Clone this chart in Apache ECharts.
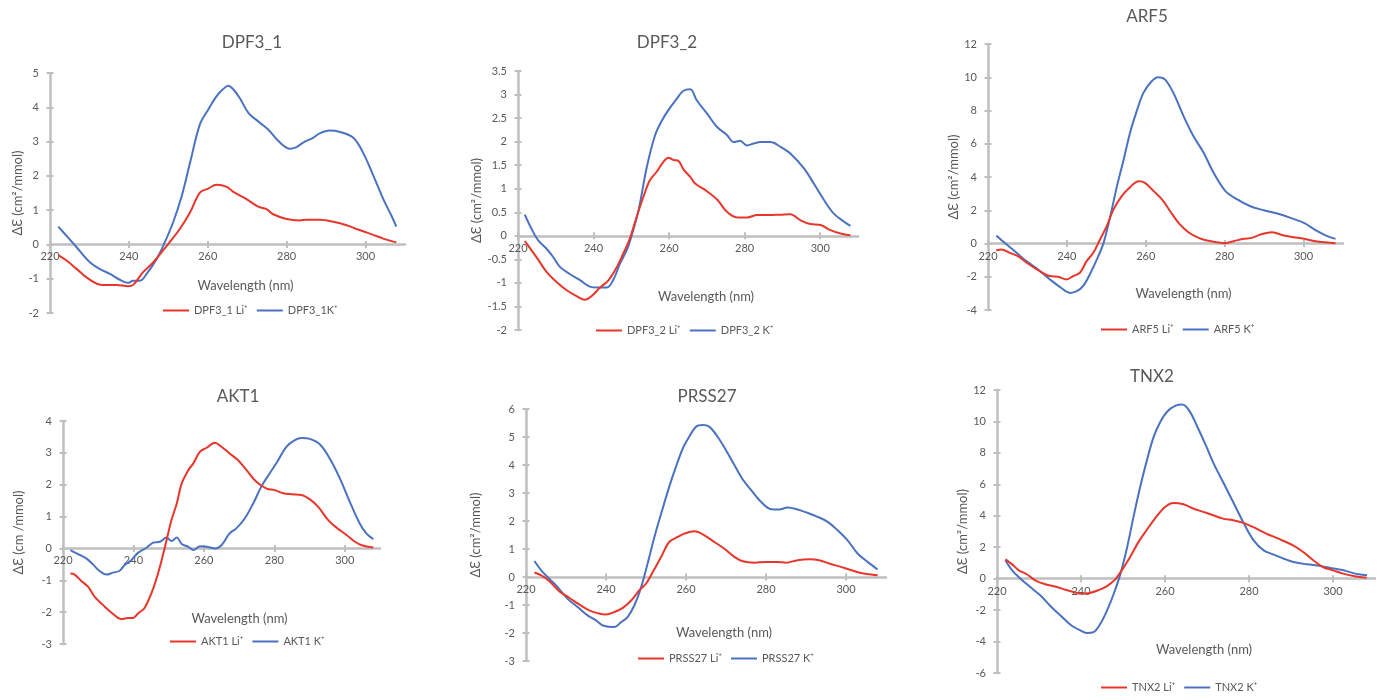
<!DOCTYPE html>
<html><head><meta charset="utf-8">
<script src="https://cdn.jsdelivr.net/npm/echarts@6/dist/echarts.min.js"></script>
<style>html,body{margin:0;padding:0;background:#fff}#c{width:1387px;height:700px}</style>
</head><body><div id="c"></div><script>
// ---------- DATA ----------
const xTicks = [220, 240, 260, 280, 300];
const titles = ['DPF3_1', 'DPF3_2', 'ARF5', 'AKT1', 'PRSS27', 'TNX2'];
const liNames = ['DPF3_1 Li⁺', 'DPF3_2 Li⁺', 'ARF5 Li⁺', 'AKT1 Li⁺', 'PRSS27 Li⁺', 'TNX2 Li⁺'];
const kNames = ['DPF3_1K⁺', 'DPF3_2 K⁺', 'ARF5 K⁺', 'AKT1 K⁺', 'PRSS27 K⁺', 'TNX2 K⁺'];
const yNames = ['ΔƐ (cm²/mmol)', 'ΔƐ (cm²/mmol)', 'ΔƐ (cm²/mmol)', 'ΔƐ (cm /mmol)', 'ΔƐ (cm²/mmol)', 'ΔƐ (cm²/mmol)'];
const yRanges = [[-2, 5, 1], [-2, 3.5, 0.5], [-4, 12, 2], [-3, 4, 1], [-3, 6, 1], [-6, 12, 2]];

const dpf31Li = [[222.1,-0.31],[224.2,-0.47],[226.8,-0.72],[229.7,-1.0],[233.1,-1.18],[236.9,-1.18],[239.8,-1.22],[241.1,-1.18],[243.6,-0.81],[246.2,-0.52],[249.6,-0.04],[252.9,0.45],[255.5,0.93],[258.0,1.51],[260.1,1.63],[262.2,1.74],[264.8,1.68],[266.5,1.53],[269.8,1.32],[272.8,1.10],[274.9,1.03],[276.6,0.88],[280.0,0.74],[283.3,0.70],[285.0,0.72],[288.4,0.72],[291.8,0.66],[295.2,0.56],[297.7,0.45],[300.2,0.35],[303.6,0.21],[305.3,0.14],[307.8,0.06]];
const dpf31K = [[222.1,0.52],[224.2,0.25],[226.8,-0.09],[230.1,-0.52],[232.7,-0.72],[235.2,-0.86],[237.7,-1.03],[239.8,-1.12],[241.1,-1.06],[242.8,-1.06],[244.5,-0.86],[247.0,-0.43],[248.7,-0.04],[251.2,0.64],[253.4,1.41],[255.5,2.38],[258.0,3.50],[260.1,3.93],[262.2,4.32],[263.9,4.53],[265.2,4.63],[266.5,4.52],[268.1,4.27],[270.3,3.84],[273.2,3.55],[275.3,3.35],[278.3,2.97],[280.8,2.79],[282.5,2.84],[284.2,2.97],[286.7,3.11],[288.4,3.24],[290.9,3.32],[293.5,3.28],[296.9,3.11],[299.4,2.67],[302.0,2.0],[304.5,1.32],[306.6,0.83],[307.8,0.52]];

const dpf32Li = [[221.8,-0.11],[223.5,-0.30],[225.3,-0.50],[227.5,-0.76],[230.2,-0.98],[232.8,-1.15],[235.5,-1.28],[237.7,-1.36],[239.5,-1.28],[241.7,-1.10],[244.0,-0.94],[246.2,-0.66],[247.9,-0.37],[249.6,-0.06],[251.4,0.40],[253.2,0.83],[254.9,1.18],[256.7,1.36],[258.5,1.57],[259.8,1.66],[261.2,1.61],[262.5,1.59],[263.8,1.41],[265.6,1.25],[266.9,1.11],[269.6,0.97],[272.7,0.77],[275.3,0.51],[278.0,0.39],[280.7,0.39],[283.3,0.44],[286.0,0.44],[289.5,0.45],[292.1,0.46],[294.8,0.33],[297.4,0.25],[300.1,0.23],[302.7,0.12],[305.4,0.05],[308.0,0.01]];
const dpf32K = [[221.8,0.45],[223.5,0.16],[225.3,-0.09],[227.5,-0.27],[229.3,-0.45],[231.1,-0.66],[233.7,-0.81],[236.4,-0.94],[239.0,-1.08],[241.2,-1.10],[243.5,-1.10],[245.2,-0.94],[247.0,-0.59],[248.8,-0.30],[250.1,0.01],[251.9,0.54],[254.1,1.46],[256.3,2.14],[258.1,2.45],[259.8,2.67],[262.0,2.91],[263.8,3.08],[265.6,3.11],[267.3,2.88],[270.0,2.60],[272.7,2.31],[275.3,2.14],[277.1,1.99],[278.8,2.02],[280.6,1.92],[282.4,1.96],[284.2,1.99],[286.8,1.99],[289.5,1.89],[292.1,1.75],[295.7,1.43],[298.3,1.11],[301.0,0.76],[303.6,0.47],[306.3,0.30],[308.0,0.21]];

const arf5Li = [[222.1,-0.40],[223.4,-0.36],[225.5,-0.56],[227.6,-0.76],[230.2,-1.22],[233.1,-1.66],[235.7,-1.96],[237.8,-2.0],[239.9,-2.16],[241.6,-1.96],[243.3,-1.76],[245.0,-1.06],[246.7,-0.56],[248.4,0.24],[250.1,1.04],[251.8,2.04],[253.9,2.85],[256.0,3.39],[258.2,3.75],[259.8,3.65],[262.0,3.15],[264.1,2.65],[266.2,1.94],[268.3,1.24],[270.8,0.68],[273.4,0.34],[275.5,0.18],[278.0,0.08],[279.7,0.02],[282.3,0.14],[284.8,0.28],[286.9,0.34],[289.1,0.54],[292.0,0.68],[295.0,0.48],[297.5,0.38],[300.1,0.28],[303.5,0.12],[308.1,0.02]];
const arf5K = [[222.1,0.48],[224.2,0.04],[226.8,-0.46],[229.7,-1.06],[232.7,-1.56],[235.7,-2.16],[238.2,-2.61],[240.8,-2.97],[242.5,-2.87],[244.2,-2.53],[245.9,-1.82],[247.6,-0.96],[249.3,0.04],[251.0,1.64],[252.7,3.45],[254.4,5.05],[256.0,6.65],[257.7,7.96],[259.4,9.06],[261.5,9.76],[263.2,10.0],[264.9,9.86],[267.0,9.06],[269.6,7.65],[272.1,6.45],[274.7,5.45],[277.2,4.25],[280.2,3.15],[283.2,2.65],[286.5,2.24],[289.9,2.0],[293.3,1.80],[296.7,1.54],[300.1,1.24],[303.5,0.74],[306.0,0.44],[308.1,0.28]];

const akt1Li = [[222.1,-0.79],[223.3,-0.82],[225.2,-1.02],[227.1,-1.20],[229.0,-1.52],[231.4,-1.78],[233.7,-2.01],[236.6,-2.22],[238.5,-2.18],[239.9,-2.18],[241.3,-2.04],[243.2,-1.86],[245.6,-1.26],[247.5,-0.58],[249.4,0.26],[250.8,0.89],[252.3,1.41],[253.7,2.04],[255.6,2.46],[257.0,2.67],[258.9,3.04],[260.8,3.16],[263.1,3.32],[265.0,3.19],[267.3,2.98],[269.7,2.77],[272.1,2.46],[274.9,2.09],[277.8,1.88],[280.1,1.83],[282.5,1.73],[284.9,1.70],[287.7,1.68],[290.1,1.54],[292.4,1.31],[295.3,0.89],[297.7,0.65],[300.5,0.42],[302.9,0.21],[304.8,0.10],[308.1,0.03]];
const akt1K = [[222.1,-0.05],[224.3,-0.18],[226.6,-0.31],[228.5,-0.50],[230.4,-0.71],[232.3,-0.82],[234.2,-0.76],[236.1,-0.70],[237.5,-0.52],[239.4,-0.37],[241.3,-0.14],[243.7,0.02],[245.6,0.18],[247.5,0.21],[249.4,0.34],[250.8,0.23],[252.3,0.34],[253.7,0.14],[255.6,0.05],[257.0,-0.05],[258.9,0.07],[260.8,0.05],[263.1,0.0],[265.0,0.10],[267.3,0.47],[269.2,0.63],[271.6,0.94],[274.0,1.41],[276.3,1.94],[278.7,2.36],[281.1,2.77],[283.4,3.19],[285.8,3.40],[287.7,3.47],[290.1,3.44],[292.9,3.27],[295.7,2.83],[298.6,2.20],[301.4,1.47],[304.2,0.79],[306.1,0.47],[308.1,0.29]];

const prss27Li = [[222.1,0.16],[223.8,0.06],[225.8,-0.14],[228.3,-0.51],[230.8,-0.74],[233.3,-0.98],[235.8,-1.19],[237.9,-1.29],[240.0,-1.34],[242.1,-1.25],[244.2,-1.10],[246.3,-0.84],[248.3,-0.48],[250.0,-0.24],[251.7,0.18],[253.8,0.72],[255.8,1.25],[257.9,1.43],[259.6,1.55],[262.1,1.63],[264.6,1.49],[267.1,1.25],[269.6,1.01],[272.1,0.72],[274.2,0.56],[277.1,0.51],[280.0,0.54],[282.9,0.54],[285.0,0.51],[287.9,0.60],[290.8,0.63],[293.3,0.60],[295.8,0.48],[298.3,0.38],[300.8,0.27],[303.8,0.14],[305.8,0.10],[307.9,0.06]];
const prss27K = [[222.1,0.57],[223.8,0.24],[225.8,-0.06],[227.9,-0.36],[230.4,-0.78],[232.9,-1.07],[235.4,-1.37],[237.5,-1.55],[239.2,-1.73],[242.1,-1.79],[243.8,-1.61],[245.4,-1.43],[247.1,-1.01],[248.8,-0.36],[250.4,0.48],[252.1,1.43],[253.8,2.27],[255.8,3.22],[257.5,3.94],[259.2,4.59],[260.8,5.01],[262.5,5.37],[264.2,5.43],[265.8,5.37],[267.9,5.01],[270.0,4.53],[272.1,4.0],[274.2,3.48],[276.3,3.10],[278.8,2.68],[281.3,2.42],[283.3,2.41],[285.4,2.48],[287.9,2.41],[290.4,2.29],[292.9,2.15],[295.4,1.97],[297.9,1.67],[300.4,1.31],[302.9,0.84],[305.4,0.54],[307.9,0.27]];

const tnx2Li = [[222.0,1.23],[223.6,0.91],[225.2,0.53],[227.1,0.28],[229.1,-0.11],[231.5,-0.36],[234.3,-0.53],[236.3,-0.70],[238.2,-0.85],[240.2,-0.96],[242.1,-0.91],[244.1,-0.74],[246.1,-0.49],[248.1,-0.06],[249.7,0.53],[251.7,1.38],[253.7,2.34],[255.6,3.08],[257.6,3.82],[260.0,4.56],[262.0,4.82],[264.4,4.73],[266.7,4.46],[269.1,4.25],[271.5,4.03],[273.8,3.82],[276.2,3.72],[278.6,3.55],[280.9,3.29],[284.1,2.87],[287.3,2.51],[290.5,2.12],[292.9,1.70],[295.3,1.17],[297.6,0.74],[300.0,0.53],[302.4,0.32],[305.2,0.15],[308.0,0.06]];
const tnx2K = [[222.0,1.17],[223.6,0.53],[225.6,0.0],[227.9,-0.53],[230.3,-1.06],[232.7,-1.74],[235.1,-2.34],[237.5,-2.93],[239.8,-3.29],[241.4,-3.46],[243.0,-3.40],[244.6,-2.87],[246.2,-2.02],[247.8,-0.96],[249.4,0.32],[251.0,2.02],[252.5,3.93],[254.1,5.84],[255.7,7.54],[257.3,9.02],[258.9,9.98],[260.5,10.62],[262.5,11.0],[264.1,11.08],[265.7,10.72],[267.7,9.66],[269.7,8.49],[271.6,7.32],[274.0,6.05],[276.4,4.78],[278.8,3.50],[281.1,2.44],[283.5,1.80],[285.9,1.53],[288.3,1.27],[290.6,1.06],[293.8,0.91],[297.0,0.81],[300.2,0.64],[302.5,0.53],[305.3,0.32],[308.1,0.21]];

const liData = [dpf31Li, dpf32Li, arf5Li, akt1Li, prss27Li, tnx2Li];
const kData = [dpf31K, dpf32K, arf5K, akt1K, prss27K, tnx2K];

// ---------- LAYOUT ----------
const layout = [
  {grid:[50,73,355,240],   title:[252,43],  legend:[163,305], yGap:23, xGap:35},
  {grid:[518,71,340,259],  title:[667,43],  legend:[596,325], yGap:31, xGap:54},
  {grid:[988,44,355,266],  title:[1147,17], legend:[1101,324], yGap:28, xGap:44},
  {grid:[63,421,317,223],  title:[238,397], legend:[170,636], yGap:38, xGap:64},
  {grid:[526,409,360,252], title:[707,397], legend:[638,653], yGap:44, xGap:49},
  {grid:[997,390,378,283], title:[1152,377],legend:[1101,682], yGap:28, xGap:65}
];

const FONT = 'Lato, "DejaVu Sans", sans-serif';
const TXT = '#595959';
const AX = '#BFBFBF';
const RED = '#E8362B';
const BLUE = '#4A72C0';

const grid = [], xAxis = [], yAxis = [], series = [], legend = [], graphic = [];
layout.forEach((L, i) => {
  const [yMin, yMax, yInt] = yRanges[i];
  const h = L.grid[3];
  // pixel distance of the zero line from the bottom / top of the plot box
  const fromBottom = h * (0 - yMin) / (yMax - yMin);
  const fromTop = h * yMax / (yMax - yMin);
  grid.push({left:L.grid[0], top:L.grid[1], width:L.grid[2], height:h});
  const tickStyle = {color:AX, width:2};
  xAxis.push({
    gridIndex:i, type:'value', min:220, max:310, interval:20, position:'bottom', offset:-fromBottom,
    axisLine:{onZero:false, lineStyle:{color:AX, width:2.5}},
    axisTick:{customValues:xTicks, length:3.5, lineStyle:tickStyle},
    axisLabel:{customValues:xTicks, color:TXT, fontSize:11, margin:7, fontFamily:FONT},
    splitLine:{show:false},
    name:'Wavelength (nm)', nameLocation:'middle', nameGap:L.xGap,
    nameTextStyle:{color:TXT, fontSize:13, fontFamily:FONT, padding:[0,0,0,36]}
  });
  xAxis.push({
    gridIndex:i, type:'value', min:220, max:310, interval:20, position:'top', offset:-fromTop,
    axisLine:{show:false, onZero:false},
    axisTick:{customValues:xTicks, length:3.5, lineStyle:tickStyle},
    axisLabel:{show:false}, splitLine:{show:false}
  });
  yAxis.push({
    gridIndex:i, type:'value', min:yMin, max:yMax, interval:yInt, position:'left',
    axisLine:{show:true, onZero:false, lineStyle:{color:AX, width:2.5}},
    axisTick:{show:true, length:3.5, lineStyle:tickStyle},
    axisLabel:{color:TXT, fontSize:11, margin:11, fontFamily:FONT},
    splitLine:{show:false},
    name:yNames[i], nameLocation:'middle', nameGap:L.yGap, nameRotate:90,
    nameTextStyle:{color:TXT, fontSize:13, fontFamily:FONT}
  });
  yAxis.push({
    gridIndex:i, type:'value', min:yMin, max:yMax, interval:yInt, position:'left',
    axisLine:{show:false, onZero:false},
    axisTick:{show:true, inside:true, length:3.5, lineStyle:tickStyle},
    axisLabel:{show:false}, splitLine:{show:false}
  });
  series.push({
    name:liNames[i], type:'line', xAxisIndex:2*i, yAxisIndex:2*i, data:liData[i],
    showSymbol:false, smooth:0.35, lineStyle:{color:RED, width:2}, itemStyle:{color:RED}, z:3
  });
  series.push({
    name:kNames[i], type:'line', xAxisIndex:2*i, yAxisIndex:2*i, data:kData[i],
    showSymbol:false, smooth:0.35, lineStyle:{color:BLUE, width:2}, itemStyle:{color:BLUE}, z:2
  });
  legend.push({
    data:[liNames[i], kNames[i]], left:L.legend[0], top:L.legend[1], padding:0,
    icon:'rect', itemWidth:26, itemHeight:2, itemGap:9,
    textStyle:{color:TXT, fontSize:11, fontFamily:FONT}
  });
  graphic.push({
    type:'text', x:L.title[0], y:L.title[1],
    style:{text:titles[i], fill:TXT, font:'17px ' + FONT, textAlign:'center', textVerticalAlign:'middle'}
  });
});

const chart = echarts.init(document.getElementById('c'), null, {renderer:'canvas'});
chart.setOption({
  animation:false, backgroundColor:'#fff',
  grid, xAxis, yAxis, series, legend, graphic
});
</script></body></html>
